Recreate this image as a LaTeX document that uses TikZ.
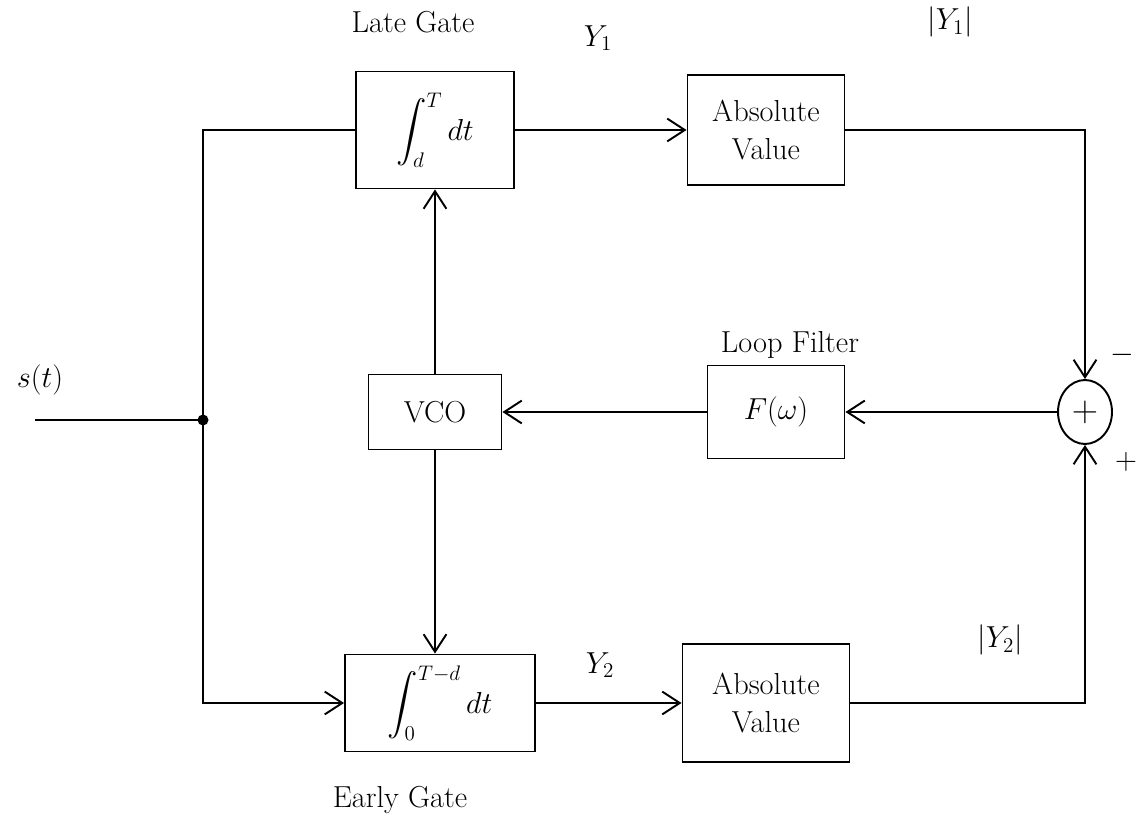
\documentclass[tikz,border=0pt]{standalone}
\usepackage{amsmath}
\usetikzlibrary{shapes.geometric,arrows.meta}
\begin{document}
\begin{tikzpicture}[x=0.02cm,y=-0.02cm,
  blk/.style={draw,line width=1.1pt,align=center,font=\LARGE,inner sep=2pt},
  lbl/.style={font=\LARGE},
  conn/.style={line width=1.1pt},
  arr/.style={conn,-{Straight Barb[length=10pt,width=13pt]}}]
\useasboundingbox (0,0) rectangle (1137,834);
% blocks
\node[blk,minimum width=3.16cm,minimum height=2.34cm] (late) at (435,130) {$\displaystyle\int_d^{T} dt$};
\node[blk,minimum width=3.14cm,minimum height=2.2cm] (abs1) at (766,130) {Absolute\\Value};
\node[blk,minimum width=2.66cm,minimum height=1.5cm] (vco) at (435,412) {VCO};
\node[blk,minimum width=2.74cm,minimum height=1.86cm] (filt) at (776,412) {$F(\omega)$};
\node[blk,font=\huge,ellipse,minimum width=1.08cm,minimum height=1.28cm,inner sep=0pt] (sum) at (1085,412) {$+$};
\node[blk,minimum width=3.8cm,minimum height=1.94cm] (early) at (440,703) {$\displaystyle\int_0^{T-d} dt$};
\node[blk,minimum width=3.34cm,minimum height=2.36cm] (abs2) at (766,703) {Absolute\\Value};
% labels
\node[lbl] (latelbl) at (413,22) {Late Gate};
\node[lbl] (earlylbl) at (400,800) {Early Gate};
\node[lbl] (looplbl) at (790,345) {Loop Filter};
\node[lbl] (y1) at (598,38) {$Y_1$};
\node[lbl] (ay1) at (950,22) {$|Y_1|$};
\node[lbl] (y2) at (600,665) {$Y_2$};
\node[lbl] (ay2) at (1000,640) {$|Y_2|$};
\node[lbl] (slbl) at (40,380) {$s(t)$};
\node[lbl] (minus) at (1122,355) {$-$};
\node[lbl] (plus) at (1126,462) {$+$};
% input and branch point
\coordinate (in) at (35,420);
\coordinate (dot) at (203,420);
\fill (dot) circle (5.5);
\draw[conn] (in) -- (dot);
\draw[conn] (dot) |- (late.west);
\draw[arr] (dot) |- (early.west);
% forward paths
\draw[arr] (late.east) -- (abs1.west);
\draw[arr] (early.east) -- (abs2.west);
\draw[arr] (abs1.east) -| (sum.north);
\draw[arr] (abs2.east) -| (sum.south);
% loop
\draw[arr] (sum.west) -- (filt.east);
\draw[arr] (filt.west) -- (vco.east);
\draw[arr] (vco.north) -- (late.south);
\draw[arr] (vco.south) -- (vco.south |- early.north);
\end{tikzpicture}
\end{document}
